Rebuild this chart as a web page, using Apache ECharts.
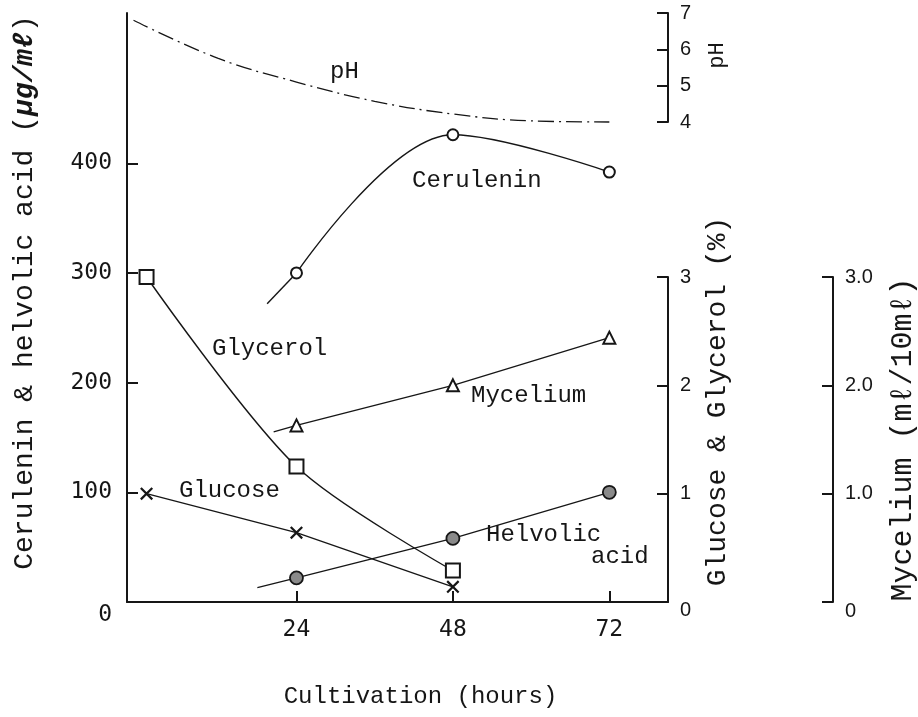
<!DOCTYPE html>
<html><head><meta charset="utf-8">
<script src="https://cdn.jsdelivr.net/npm/echarts@6/dist/echarts.min.js"></script>
<style>html,body{margin:0;padding:0;background:#fff}#c{width:918px;height:717px}</style>
</head><body><div id="c"></div>
<script>
// ---- data ----
const xTicks = [24, 48, 72];
const leftTicks = [0, 100, 200, 300, 400];

// pH (dash-dot curve)
const phHours = [-1, 12, 24, 36, 48, 60, 72];
const phVals  = [6.8, 5.75, 5.1, 4.57, 4.22, 4.03, 4.0];

// Cerulenin (µg/ml) measured points, and the short lead-in of the drawn curve
const cerHours = [24, 48, 72];
const cerVals  = [300, 426, 392];
const cerLeadHours = [19.5, 24];
const cerLeadVals  = [272, 300];

// Helvolic acid (µg/ml) – first entry is lead-in
const helHours = [18, 24, 48, 72];
const helVals  = [13, 22, 58, 100];

// Glycerol (%)
const glyHours = [1, 24, 48];
const glyVals  = [3.0, 1.25, 0.29];

// Glucose (%)
const gluHours = [1, 24, 48];
const gluVals  = [1.0, 0.64, 0.14];

// Mycelium (ml/10ml) – first entry is lead-in
const myHours = [20.5, 24, 48, 72];
const myVals  = [1.57, 1.63, 2.0, 2.44];

// ---- helpers ----
function pairs(xs, ys, leadIn) {
  return xs.map((x, i) => (leadIn && i === 0)
    ? { value: [x, ys[i]], symbol: 'none' }
    : [x, ys[i]]);
}
const INK = '#161616';
const MONO = '"Liberation Mono", "DejaVu Sans Mono", monospace';
const NUM = '"DejaVu Sans Mono", monospace';
const SANS = '"Liberation Sans", Arial, sans-serif';
const xMin = -2, xMax = 81;
const crossPath = 'path://M0,1.2L1.2,0L10,8.8L8.8,10Z M8.8,0L10,1.2L1.2,10L0,8.8Z';
const zeroRich = (fam, size, pad) => ({ z: { fontFamily: fam, fontSize: size, color: INK, padding: [pad, 0, 0, 0] } });

const chart = echarts.init(document.getElementById('c'), null, { renderer: 'canvas' });

const hiddenX = (g) => ({ type: 'value', gridIndex: g, min: xMin, max: xMax, show: false });
const rightAxisCommon = {
  axisLine: { show: true, onZero: false, lineStyle: { color: INK, width: 2 } },
  axisTick: { show: true, inside: true, length: 11, lineStyle: { color: INK, width: 2 } },
  splitLine: { show: false }
};

chart.setOption({
  backgroundColor: '#ffffff',
  animation: false,
  grid: [
    { left: 127, right: 250, top: 13, bottom: 115, outerBoundsMode: 'none', containLabel: false },   // main (µg/ml)
    { left: 127, right: 250, top: 277, bottom: 115, outerBoundsMode: 'none', containLabel: false },  // glucose/glycerol + mycelium
    { left: 127, right: 250, top: 13, bottom: 595, outerBoundsMode: 'none', containLabel: false }    // pH
  ],
  xAxis: [
    {
      type: 'value', gridIndex: 0, min: xMin, max: xMax,
      axisLine: { show: true, onZero: false, lineStyle: { color: INK, width: 2 } },
      axisTick: { show: true, inside: true, length: 11, customValues: xTicks, lineStyle: { color: INK, width: 2 } },
      axisLabel: { customValues: xTicks, color: INK, fontFamily: NUM, fontSize: 23, margin: 17 },
      splitLine: { show: false },
      name: 'Cultivation (hours)', nameLocation: 'middle', nameGap: 83,
      nameTextStyle: { fontFamily: MONO, fontSize: 24, color: INK, padding: [0, 0, 0, 46] }
    },
    hiddenX(1),
    hiddenX(2)
  ],
  yAxis: [
    {
      type: 'value', gridIndex: 0, min: 0, max: 537, position: 'left',
      axisLine: { show: true, onZero: false, lineStyle: { color: INK, width: 2 } },
      axisTick: { show: true, inside: true, length: 11, customValues: leftTicks, lineStyle: { color: INK, width: 2 } },
      axisLabel: { customValues: leftTicks, color: INK, fontFamily: NUM, fontSize: 23, margin: 15,
        formatter: v => v === 0 ? '{z|0}' : String(v), rich: zeroRich(NUM, 23, 26) },
      splitLine: { show: false },
      name: 'Cerulenin & helvolic acid ({it|µg/mℓ})', nameLocation: 'middle', nameRotate: 90, nameGap: 88,
      nameTextStyle: {
        fontFamily: MONO, fontSize: 28, color: INK, padding: [0, 0, 0, 30],
        rich: { it: { fontFamily: MONO, fontSize: 28, fontStyle: 'italic', fontWeight: 'bold', color: INK } }
      }
    },
    Object.assign({
      type: 'value', gridIndex: 1, min: 0, max: 3, interval: 1, position: 'right',
      axisLabel: { color: INK, fontFamily: SANS, fontSize: 20, margin: 12,
        formatter: v => v === 0 ? '{z|0}' : String(v), rich: zeroRich(SANS, 20, 16) },
      name: 'Glucose & Glycerol (%)', nameLocation: 'middle', nameRotate: 90, nameGap: 36,
      nameTextStyle: { fontFamily: MONO, fontSize: 28, color: INK, padding: [0, 0, 0, 76] }
    }, rightAxisCommon),
    Object.assign({
      type: 'value', gridIndex: 2, min: 4, max: 7, interval: 1, position: 'right',
      axisLabel: { color: INK, fontFamily: SANS, fontSize: 20, margin: 12 },
      name: 'pH', nameLocation: 'middle', nameRotate: 90, nameGap: 38,
      nameTextStyle: { fontFamily: MONO, fontSize: 22, color: INK, padding: [0, 0, 0, 24] }
    }, rightAxisCommon),
    Object.assign({
      type: 'value', gridIndex: 1, min: 0, max: 3, interval: 1, position: 'right', offset: 165,
      axisLabel: { color: INK, fontFamily: SANS, fontSize: 20, margin: 12,
        formatter: v => v === 0 ? '{z|0}' : v.toFixed(1), rich: zeroRich(SANS, 20, 18) },
      name: 'Mycelium (mℓ/10mℓ)', nameLocation: 'middle', nameRotate: 90, nameGap: 55,
      nameTextStyle: { fontFamily: MONO, fontSize: 30, color: INK }
    }, rightAxisCommon)
  ],
  series: [
    {
      name: 'pH', type: 'line', xAxisIndex: 2, yAxisIndex: 2, smooth: 0.4, clip: false,
      symbol: 'none', data: pairs(phHours, phVals, false),
      lineStyle: { color: INK, width: 1.3, type: [16, 5, 2, 5] }
    },
    {
      name: 'Cerulenin lead-in', type: 'line', xAxisIndex: 0, yAxisIndex: 0, clip: false,
      symbol: 'none', data: pairs(cerLeadHours, cerLeadVals, false),
      lineStyle: { color: INK, width: 1.4 }, z: 2
    },
    {
      name: 'Cerulenin', type: 'line', xAxisIndex: 0, yAxisIndex: 0, smooth: 0.35, clip: false,
      symbol: 'emptyCircle', symbolSize: 11, data: pairs(cerHours, cerVals, false),
      lineStyle: { color: INK, width: 1.4 },
      itemStyle: { color: INK, borderColor: INK, borderWidth: 2 }, z: 3
    },
    {
      name: 'Glycerol', type: 'line', xAxisIndex: 1, yAxisIndex: 1, smooth: 0.3, clip: false,
      symbol: 'emptyRect', symbolSize: 14, data: pairs(glyHours, glyVals, false),
      lineStyle: { color: INK, width: 1.4 },
      itemStyle: { color: INK, borderColor: INK, borderWidth: 1.8 }
    },
    {
      name: 'Glucose', type: 'line', xAxisIndex: 1, yAxisIndex: 1, clip: false,
      symbol: crossPath, symbolSize: 13, data: pairs(gluHours, gluVals, false),
      lineStyle: { color: INK, width: 1.3 },
      itemStyle: { color: INK, borderWidth: 0 }
    },
    {
      name: 'Mycelium', type: 'line', xAxisIndex: 1, yAxisIndex: 3, clip: false,
      symbol: 'emptyTriangle', symbolSize: 12, data: pairs(myHours, myVals, true),
      lineStyle: { color: INK, width: 1.3 },
      itemStyle: { color: INK, borderColor: INK, borderWidth: 1.6 }
    },
    {
      name: 'Helvolic acid', type: 'line', xAxisIndex: 0, yAxisIndex: 0, clip: false,
      symbol: 'circle', symbolSize: 13, data: pairs(helHours, helVals, true),
      lineStyle: { color: INK, width: 1.3 },
      itemStyle: { color: '#8a8a8a', borderColor: INK, borderWidth: 1.8 }
    }
  ],
  graphic: [
    { type: 'text', left: 330, top: 60, style: { text: 'pH', font: '24px ' + MONO, fill: INK } },
    { type: 'text', left: 412, top: 169, style: { text: 'Cerulenin', font: '24px ' + MONO, fill: INK } },
    { type: 'text', left: 212, top: 337, style: { text: 'Glycerol', font: '24px ' + MONO, fill: INK } },
    { type: 'text', left: 471, top: 384, style: { text: 'Mycelium', font: '24px ' + MONO, fill: INK } },
    { type: 'text', left: 179, top: 479, style: { text: 'Glucose', font: '24px ' + MONO, fill: INK } },
    { type: 'text', left: 486, top: 523, style: { text: 'Helvolic', font: '24px ' + MONO, fill: INK } },
    { type: 'text', left: 591, top: 545, style: { text: 'acid', font: '24px ' + MONO, fill: INK } }
  ]
});
</script>
</body></html>
